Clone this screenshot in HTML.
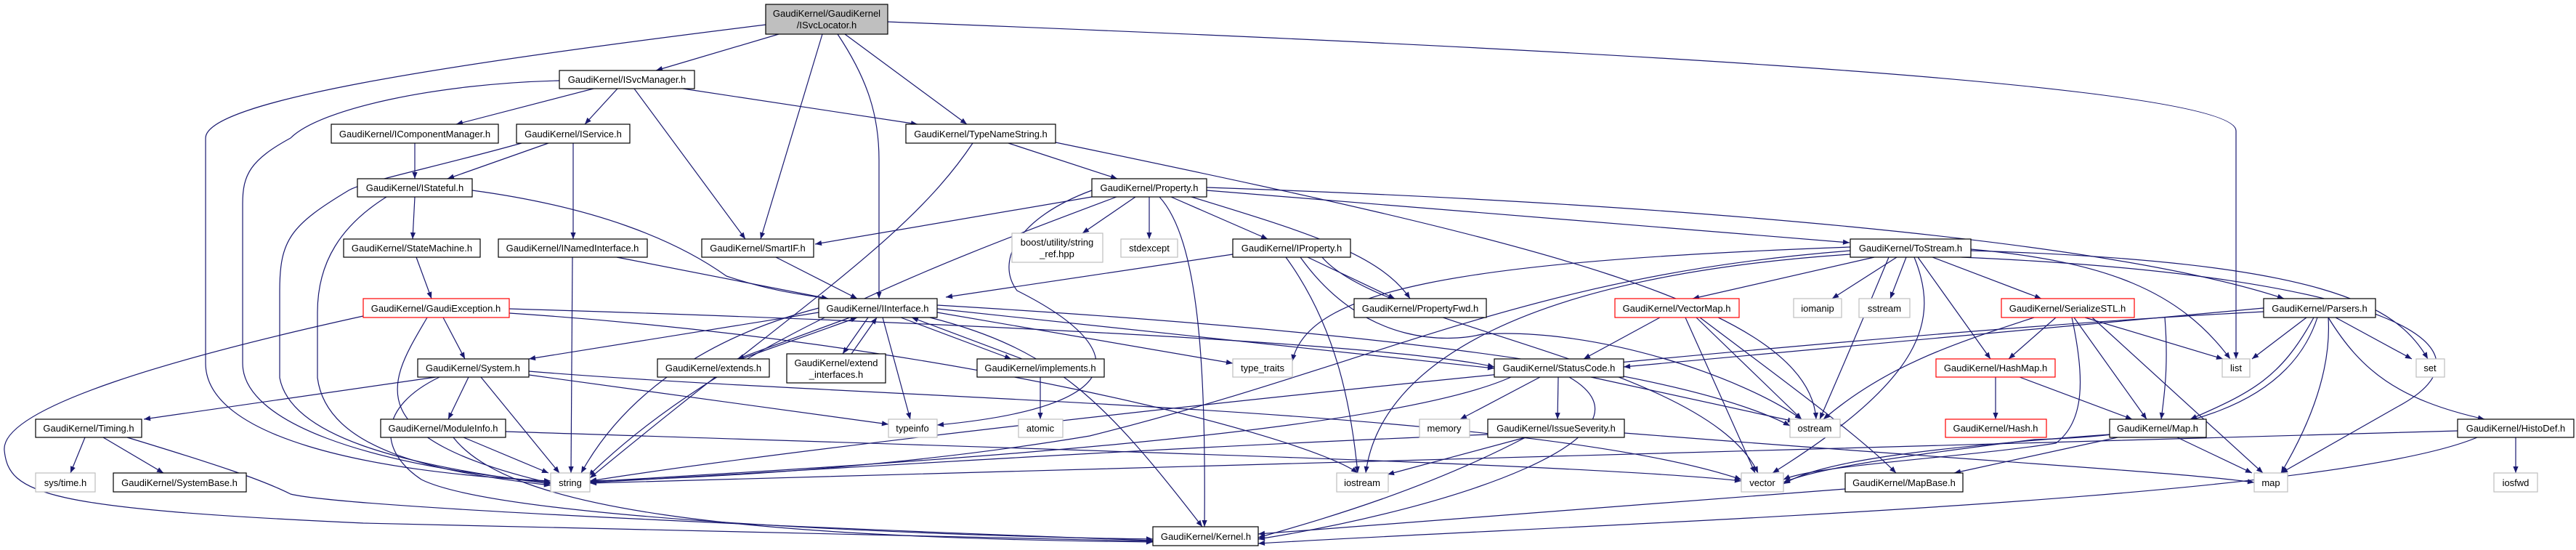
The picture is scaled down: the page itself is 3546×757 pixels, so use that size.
<!DOCTYPE html>
<html><head><meta charset="utf-8"><style>
html,body{margin:0;padding:0;background:#fff;}
svg{display:block;}
text{font-family:"Liberation Sans",Helvetica,sans-serif;font-size:13px;fill:#000;text-anchor:middle;}
.e{fill:none;stroke:#191970;stroke-width:1.2;marker-end:url(#ah);}
.n{fill:#fff;stroke:#000;stroke-width:1.2;}
.g{fill:#fff;stroke:#bfbfbf;stroke-width:1.2;}
.r{fill:#fff;stroke:#ff0000;stroke-width:1.2;}
</style></head><body>
<svg width="3546" height="757" viewBox="0 0 3546 757" xmlns="http://www.w3.org/2000/svg">
<defs><marker id="ah" viewBox="0 0 10 10" refX="10" refY="5" markerWidth="10" markerHeight="9" markerUnits="userSpaceOnUse" orient="auto"><polygon points="0,1 10,5 0,9" fill="#191970"/></marker></defs>
<g>
<!-- ISvcLocator -->
<path class="e" d="M1072 47 L903 97"/>
<path class="e" d="M1132 47 L1047 329"/>
<path class="e" d="M1153 47 C1195 110 1210 160 1210 220 L1210 411"/>
<path class="e" d="M1163 47 L1331 171"/>
<path class="e" d="M1054 34 C600 90 283 140 283 190 L283 500 C283 600 500 650 758 662"/>
<path class="e" d="M1222 30 C2000 60 3078 110 3078 180 L3078 494"/>
<!-- ISvcManager -->
<path class="e" d="M817 122 L628 171"/>
<path class="e" d="M850 122 L805 171"/>
<path class="e" d="M873 122 L1026 329"/>
<path class="e" d="M940 122 L1263 171"/>
<path class="e" d="M770 111 C600 115 440 150 400 190 C345 220 334 240 334 280 L334 500 C334 580 500 640 758 664"/>
<!-- C, D -->
<path class="e" d="M571 197 L571 246"/>
<path class="e" d="M755 197 L616 246"/>
<path class="e" d="M789 197 L789 329"/>
<path class="e" d="M718 197 C600 230 500 250 480 262 C400 310 385 330 385 400 L385 520 C400 600 550 640 758 666"/>
<!-- IStateful -->
<path class="e" d="M571 271 L568 329"/>
<path class="e" d="M650 262 C820 285 930 330 1000 380 C1060 400 1100 405 1140 411"/>
<path class="e" d="M532 271 C470 310 437 360 437 430 L437 520 C450 620 600 650 758 668"/>
<path class="e" d="M573 354 L594 411"/>
<path class="e" d="M849 354 L1140 411"/>
<path class="e" d="M788 354 L786 651"/>
<path class="e" d="M1068 354 L1180 411"/>
<!-- TypeNameString -->
<path class="e" d="M1388 197 L1538 246"/>
<path class="e" d="M1339 197 C1250 330 1100 420 812 658"/>
<path class="e" d="M1453 196 C2100 330 2490 420 2500 577"/>
<!-- Property -->
<path class="e" d="M1503 271 L1122 336"/>
<path class="e" d="M1563 271 L1490 321"/>
<path class="e" d="M1582 271 L1582 329"/>
<path class="e" d="M1612 271 L1745 329"/>
<path class="e" d="M1640 271 C1800 320 1900 350 1941 411"/>
<path class="e" d="M1661 262 L2546 334"/>
<path class="e" d="M1661 258 C2300 280 2900 330 3144 411"/>
<path class="e" d="M1537 271 C1300 360 1000 470 810 655"/>
<path class="e" d="M1503 262 C1400 300 1370 360 1400 400 C1560 480 1560 560 1290 585"/>
<path class="e" d="M1596 271 C1650 330 1660 500 1658 725"/>
<!-- IProperty -->
<path class="e" d="M1697 350 L1302 409"/>
<path class="e" d="M1800 354 L1920 411"/>
<path class="e" d="M1770 354 C1840 450 1860 560 1869 651"/>
<path class="e" d="M1820 354 C1900 450 2350 500 2420 651"/>
<path class="e" d="M1790 354 C1880 480 2000 470 2040 460 C2200 450 2400 520 2480 577"/>
<!-- GaudiException -->
<path class="e" d="M610 437 L640 494"/>
<path class="e" d="M588 437 C540 520 480 600 758 665"/>
<path class="e" d="M500 435 C250 490 0 560 6 620 C12 680 60 700 500 720 L1587 745"/>
<path class="e" d="M701 425 C1200 440 1900 470 2057 505"/>
<path class="e" d="M701 431 C1300 470 1800 600 1869 651"/>
<!-- IInterface -->
<path class="e" d="M1170 437 L1015 494"/>
<path class="e" d="M1020 494 L1180 437"/>
<path class="e" d="M1195 437 L1160 487"/>
<path class="e" d="M1172 487 L1207 437"/>
<path class="e" d="M1240 437 L1392 494"/>
<path class="e" d="M1407 494 L1255 437"/>
<path class="e" d="M1432 519 L1432 577"/>
<path class="e" d="M1215 437 L1253 577"/>
<path class="e" d="M1290 430 L1697 500"/>
<path class="e" d="M1290 425 L2057 507"/>
<path class="e" d="M1280 437 C1450 480 1520 550 1655 725"/>
<path class="e" d="M1127 430 L728 494"/>
<path class="e" d="M1127 424 C950 470 850 560 800 651"/>
<path class="e" d="M1290 420 C1800 450 2300 500 2464 586"/>
<!-- System -->
<path class="e" d="M600 519 L198 577"/>
<path class="e" d="M645 519 L617 577"/>
<path class="e" d="M662 519 L770 651"/>
<path class="e" d="M728 516 L1223 584"/>
<path class="e" d="M728 511 C1200 550 2100 560 2397 660"/>
<path class="e" d="M605 519 C520 560 520 620 580 660 C700 720 1400 740 1587 742"/>
<!-- Timing, ModuleInfo -->
<path class="e" d="M117 602 L97 651"/>
<path class="e" d="M142 602 L225 651"/>
<path class="e" d="M175 602 C300 640 360 660 400 680 C480 700 1200 730 1587 744"/>
<path class="e" d="M638 602 L755 651"/>
<path class="e" d="M624 602 C700 700 1000 740 1587 746"/>
<path class="e" d="M696 594 C1500 620 2200 640 2397 662"/>
<!-- into string / Kernel from right -->
<path class="e" d="M2048 598 C1500 620 1000 655 812 664"/>
<path class="e" d="M2080 519 C1900 600 1200 640 812 663"/>
<path class="e" d="M2547 345 C2100 380 1900 500 1500 600 C1200 650 900 660 812 662"/>
<path class="e" d="M3116 429 C2500 460 1200 600 812 662"/>
<path class="e" d="M3383 593 C2500 620 1200 650 812 665"/>
<path class="e" d="M2540 673 C2200 700 1900 720 1732 735"/>
<path class="e" d="M2160 519 C2300 600 2000 700 1732 742"/>
<path class="e" d="M2100 602 C1950 680 1800 720 1732 740"/>
<path class="e" d="M3410 602 C3200 690 2200 720 1732 748"/>
<!-- VectorMap -->
<path class="e" d="M2285 437 L2180 494"/>
<path class="e" d="M2320 437 L2416 651"/>
<path class="e" d="M2335 437 L2480 577"/>
<path class="e" d="M2340 437 C2450 520 2560 600 2610 651"/>
<!-- ToStream -->
<path class="e" d="M2611 354 L2522 411"/>
<path class="e" d="M2624 354 L2602 411"/>
<path class="e" d="M2660 354 L2810 411"/>
<path class="e" d="M2640 354 L2740 494"/>
<path class="e" d="M2580 354 L2330 411"/>
<path class="e" d="M2713 343 C2900 360 3000 400 3070 494"/>
<path class="e" d="M2713 345 C3200 360 3300 420 3342 494"/>
<path class="e" d="M2700 354 C3300 380 3450 480 3300 560 L3140 651"/>
<path class="e" d="M2635 354 C2670 440 2650 520 2440 651"/>
<path class="e" d="M2600 354 C2560 450 2530 520 2505 577"/>
<path class="e" d="M2547 350 C2100 380 1900 500 1880 651"/>
<path class="e" d="M2547 340 C2000 360 1800 400 1779 497"/>
<!-- SerializeSTL -->
<path class="e" d="M2830 437 L2765 494"/>
<path class="e" d="M2870 437 L3060 494"/>
<path class="e" d="M2855 437 L2955 577"/>
<path class="e" d="M2880 437 L3115 651"/>
<path class="e" d="M2800 437 C2700 470 2600 500 2510 577"/>
<path class="e" d="M2852 437 C2870 520 2870 580 2830 610 C2700 630 2500 640 2455 660"/>
<path class="e" d="M2747 519 L2747 577"/>
<path class="e" d="M2780 519 L2935 577"/>
<!-- Parsers -->
<path class="e" d="M3175 437 L3100 494"/>
<path class="e" d="M3215 437 L3320 494"/>
<path class="e" d="M3185 437 C3140 520 3100 540 3015 577"/>
<path class="e" d="M3205 437 C3210 520 3170 600 3140 651"/>
<path class="e" d="M3205 437 C3250 510 3300 550 3420 577"/>
<path class="e" d="M3190 437 C3150 560 3000 600 2800 605 C2600 630 2500 645 2455 664"/>
<path class="e" d="M3116 424 L2235 505"/>
<path class="e" d="M2980 437 C2985 500 2980 540 2975 577"/>
<!-- Map, HistoDef, StatusCode, IssueSeverity -->
<path class="e" d="M2915 602 L2690 651"/>
<path class="e" d="M2997 602 L3100 651"/>
<path class="e" d="M2904 598 C2600 620 2500 640 2455 666"/>
<path class="e" d="M3463 602 L3463 651"/>
<path class="e" d="M2120 519 L2010 577"/>
<path class="e" d="M2145 519 L2144 577"/>
<path class="e" d="M2190 519 L2470 580"/>
<path class="e" d="M2100 602 L1910 653"/>
<path class="e" d="M2236 596 C2800 640 3000 650 3103 664"/>
</g>
<g>
<rect x="1054" y="6" width="168" height="41" fill="#bfbfbf" stroke="#000" stroke-width="1.2"/>
<text x="1138" y="23">GaudiKernel/GaudiKernel</text><text x="1138" y="39">/ISvcLocator.h</text>
<rect class="n" x="770" y="97" width="186" height="25"/><text x="863" y="114">GaudiKernel/ISvcManager.h</text>
<rect class="n" x="456" y="171" width="230" height="26"/><text x="571" y="189">GaudiKernel/IComponentManager.h</text>
<rect class="n" x="711" y="171" width="156" height="26"/><text x="789" y="189">GaudiKernel/IService.h</text>
<rect class="n" x="1247" y="171" width="206" height="26"/><text x="1350" y="189">GaudiKernel/TypeNameString.h</text>
<rect class="n" x="492" y="246" width="158" height="25"/><text x="571" y="263">GaudiKernel/IStateful.h</text>
<rect class="n" x="1503" y="246" width="158" height="25"/><text x="1582" y="263">GaudiKernel/Property.h</text>
<rect class="n" x="473" y="329" width="188" height="25"/><text x="567" y="346">GaudiKernel/StateMachine.h</text>
<rect class="n" x="686" y="329" width="205" height="25"/><text x="788" y="346">GaudiKernel/INamedInterface.h</text>
<rect class="n" x="966" y="329" width="154" height="25"/><text x="1043" y="346">GaudiKernel/SmartIF.h</text>
<rect class="g" x="1393" y="321" width="125" height="40"/><text x="1455" y="338">boost/utility/string</text><text x="1455" y="354">_ref.hpp</text>
<rect class="g" x="1543" y="329" width="78" height="25"/><text x="1582" y="346">stdexcept</text>
<rect class="n" x="1697" y="329" width="162" height="25"/><text x="1778" y="346">GaudiKernel/IProperty.h</text>
<rect class="n" x="2547" y="329" width="166" height="25"/><text x="2630" y="346">GaudiKernel/ToStream.h</text>
<rect class="r" x="500" y="411" width="201" height="26"/><text x="600" y="429">GaudiKernel/GaudiException.h</text>
<rect class="n" x="1127" y="411" width="163" height="26"/><text x="1208" y="429">GaudiKernel/IInterface.h</text>
<rect class="n" x="1864" y="411" width="182" height="26"/><text x="1955" y="429">GaudiKernel/PropertyFwd.h</text>
<rect class="r" x="2223" y="411" width="171" height="26"/><text x="2308" y="429">GaudiKernel/VectorMap.h</text>
<rect class="g" x="2469" y="411" width="66" height="26"/><text x="2502" y="429">iomanip</text>
<rect class="g" x="2559" y="411" width="70" height="26"/><text x="2594" y="429">sstream</text>
<rect class="r" x="2755" y="411" width="183" height="26"/><text x="2846" y="429">GaudiKernel/SerializeSTL.h</text>
<rect class="n" x="3116" y="411" width="154" height="26"/><text x="3193" y="429">GaudiKernel/Parsers.h</text>
<rect class="n" x="575" y="494" width="153" height="25"/><text x="651" y="511">GaudiKernel/System.h</text>
<rect class="n" x="905" y="494" width="154" height="25"/><text x="982" y="511">GaudiKernel/extends.h</text>
<rect class="n" x="1083" y="487" width="136" height="40"/><text x="1151" y="504">GaudiKernel/extend</text><text x="1151" y="520">_interfaces.h</text>
<rect class="n" x="1345" y="494" width="175" height="25"/><text x="1432" y="511">GaudiKernel/implements.h</text>
<rect class="g" x="1697" y="494" width="82" height="25"/><text x="1738" y="511">type_traits</text>
<rect class="n" x="2057" y="494" width="178" height="25"/><text x="2146" y="511">GaudiKernel/StatusCode.h</text>
<rect class="r" x="2665" y="494" width="164" height="25"/><text x="2747" y="511">GaudiKernel/HashMap.h</text>
<rect class="g" x="3059" y="494" width="38" height="25"/><text x="3078" y="511">list</text>
<rect class="g" x="3326" y="494" width="39" height="25"/><text x="3345" y="511">set</text>
<rect class="n" x="49" y="577" width="146" height="25"/><text x="122" y="594">GaudiKernel/Timing.h</text>
<rect class="n" x="524" y="577" width="172" height="25"/><text x="610" y="594">GaudiKernel/ModuleInfo.h</text>
<rect class="g" x="1223" y="577" width="67" height="25"/><text x="1256" y="594">typeinfo</text>
<rect class="g" x="1402" y="577" width="61" height="25"/><text x="1432" y="594">atomic</text>
<rect class="g" x="1954" y="577" width="69" height="25"/><text x="1988" y="594">memory</text>
<rect class="n" x="2048" y="577" width="188" height="25"/><text x="2142" y="594">GaudiKernel/IssueSeverity.h</text>
<rect class="g" x="2464" y="577" width="69" height="25"/><text x="2498" y="594">ostream</text>
<rect class="r" x="2678" y="577" width="139" height="25"/><text x="2747" y="594">GaudiKernel/Hash.h</text>
<rect class="n" x="2904" y="577" width="133" height="25"/><text x="2970" y="594">GaudiKernel/Map.h</text>
<rect class="n" x="3383" y="577" width="160" height="25"/><text x="3463" y="594">GaudiKernel/HistoDef.h</text>
<rect class="g" x="49" y="651" width="82" height="26"/><text x="90" y="669">sys/time.h</text>
<rect class="n" x="156" y="651" width="183" height="26"/><text x="247" y="669">GaudiKernel/SystemBase.h</text>
<rect class="g" x="758" y="651" width="54" height="26"/><text x="785" y="669">string</text>
<rect class="g" x="1840" y="651" width="71" height="26"/><text x="1875" y="669">iostream</text>
<rect class="g" x="2397" y="651" width="58" height="26"/><text x="2426" y="669">vector</text>
<rect class="n" x="2540" y="651" width="162" height="26"/><text x="2621" y="669">GaudiKernel/MapBase.h</text>
<rect class="g" x="3103" y="651" width="46" height="26"/><text x="3126" y="669">map</text>
<rect class="g" x="3433" y="651" width="60" height="26"/><text x="3463" y="669">iosfwd</text>
<rect class="n" x="1587" y="725" width="145" height="26"/><text x="1660" y="743">GaudiKernel/Kernel.h</text>
</g>
</svg>
</body></html>
